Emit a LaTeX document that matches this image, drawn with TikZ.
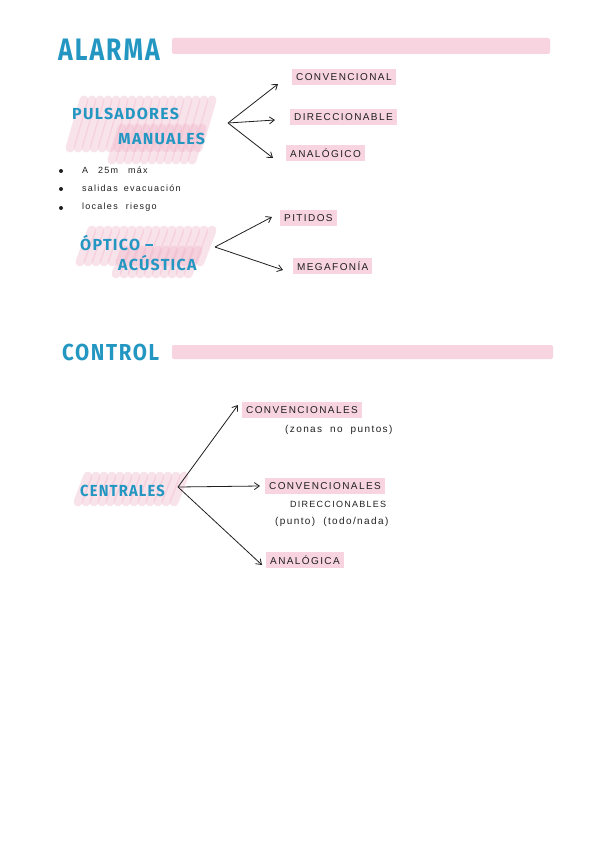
\documentclass[tikz,border=0pt]{standalone}
\usepackage{fontspec}
\setmainfont{Liberation Sans}
\newfontfamily\headfont[LetterSpace=8]{Fira Sans}
\newfontfamily\lblfont[LetterSpace=14]{Liberation Sans}
\newfontfamily\notefont[LetterSpace=14]{Liberation Sans}
\usetikzlibrary{arrows.meta}
\definecolor{hblue}{HTML}{2397C2}
\definecolor{pinkbar}{HTML}{F7D4E0}
\definecolor{pinkscr}{HTML}{F0B3C8}
\definecolor{ink}{HTML}{202020}
\tikzset{
  head/.style={font=\headfont\bfseries\fontsize{27}{27}\selectfont, text=hblue, anchor=west, inner sep=0pt},
  sub/.style={font=\headfont\bfseries\fontsize{16}{16}\selectfont, text=hblue, anchor=west, inner sep=0pt},
  lbl/.style={font=\lblfont\fontsize{10}{10}\selectfont, text=ink, anchor=west, fill=pinkbar, inner xsep=4pt, inner ysep=4pt},
  note/.style={font=\notefont\fontsize{9}{11}\selectfont, text=ink, anchor=west, inner sep=0pt},
  bar/.style={fill=pinkbar, draw=none, rounded corners=2pt},
  scrib/.style={draw=pinkscr, line width=9pt, opacity=0.36, line cap=round},
  arr/.style={draw=ink, line width=0.8pt, -{Straight Barb[length=5pt,width=7pt]}},
  dot/.style={circle, fill=ink, inner sep=0pt, minimum size=4pt},
}
\begin{document}
\begin{tikzpicture}[x=1pt,y=-1pt]
\useasboundingbox[fill=white] (0,0) rectangle (600,848);
% ---------- ALARMA ----------
\fill[bar] (172,38) rectangle (550,54);
\node[head] (alarma) at (58,50) {\scalebox{0.92}[1.15]{ALARMA}};
% scribble behind PULSADORES MANUALES
\foreach \i in {0,...,16}{ \draw[scrib] (70+8*\i,148) -- (84+8*\i,100); }
\foreach \i in {0,...,10}{ \draw[scrib] (112+8*\i,160) -- (122+8*\i,128); }
\node[sub] (pul1) at (72,114) {PULSADORES};
\node[sub] (pul2) at (118,139) {MANUALES};
\coordinate (pulsrc) at (228,123);
\node[lbl] (conv) at (292,77) {CONVENCIONAL};
\node[lbl] (dir) at (290,117) {DIRECCIONABLE};
\node[lbl] (ana) at (286,153) {ANALÓGICO};
\draw[arr] (pulsrc) -- ([xshift=-14pt,yshift=-7pt]conv.west);
\draw[arr] (pulsrc) -- ([xshift=-15pt,yshift=-3pt]dir.west);
\draw[arr] (pulsrc) -- ([xshift=-13pt,yshift=-5pt]ana.west);
% bullets
\node[dot] (b1) at (61,171) {};
\node[dot] (b2) at (61,189) {};
\node[dot] (b3) at (61,208) {};
\node[note] (n1) at (82,170) {A\hspace{10pt}25m\hspace{10pt}máx};
\node[note] (n2) at (82,188) {salidas\hspace{6pt}evacuación};
\node[note] (n3) at (82,207) {locales\hspace{8pt}riesgo};
% scribble behind OPTICO ACUSTICA
\foreach \i in {0,...,15}{ \draw[scrib] (80+8*\i,262) -- (92+8*\i,230); }
\foreach \i in {0,...,9}{ \draw[scrib] (116+8*\i,274) -- (126+8*\i,250); }
\node[sub] (opt1) at (80,243) {ÓPTICO –};
\node[sub] (opt2) at (118,263) {ACÚSTICA};
\coordinate (optsrc) at (215,247);
\node[lbl] (pit) at (280,218) {PITIDOS};
\node[lbl] (meg) at (293,266) {MEGAFONÍA};
\draw[arr] (optsrc) -- ([xshift=-8pt,yshift=1pt]pit.west);
\draw[arr] (optsrc) -- ([xshift=-10pt,yshift=-4pt]meg.west);
% ---------- CONTROL ----------
\fill[bar] (172,345) rectangle (553,359);
\node[head, font=\headfont\bfseries\fontsize{22}{22}\selectfont] (control) at (62,352) {\scalebox{0.93}[1.05]{CONTROL}};
\foreach \i in {0,...,12}{ \draw[scrib] (78+8*\i,502) -- (88+8*\i,476); }
\node[sub] (cen) at (80,491) {\scalebox{0.92}[1]{CENTRALES}};
\coordinate (censrc) at (178,487);
\node[lbl] (c1) at (242,410) {CONVENCIONALES};
\node[note, font=\notefont\fontsize{10}{12}\selectfont] (c1n) at (285,430) {(zonas\hspace{8pt}no\hspace{8pt}puntos)};
\node[lbl] (c2) at (265,486) {CONVENCIONALES};
\node[note] (c2n) at (290,504) {DIRECCIONABLES};
\node[note, font=\notefont\fontsize{10}{12}\selectfont] (c2m) at (275,522) {(punto)\hspace{8pt}(todo/nada)};
\node[lbl] (c3) at (266,560) {ANALÓGICA};
\draw[arr] (censrc) -- ([xshift=-4pt,yshift=5pt]c1.west);
\draw[arr] (censrc) -- ([xshift=-5pt]c2.west);
\draw[arr] (censrc) -- ([xshift=-4pt,yshift=-5pt]c3.west);
\end{tikzpicture}
\end{document}
